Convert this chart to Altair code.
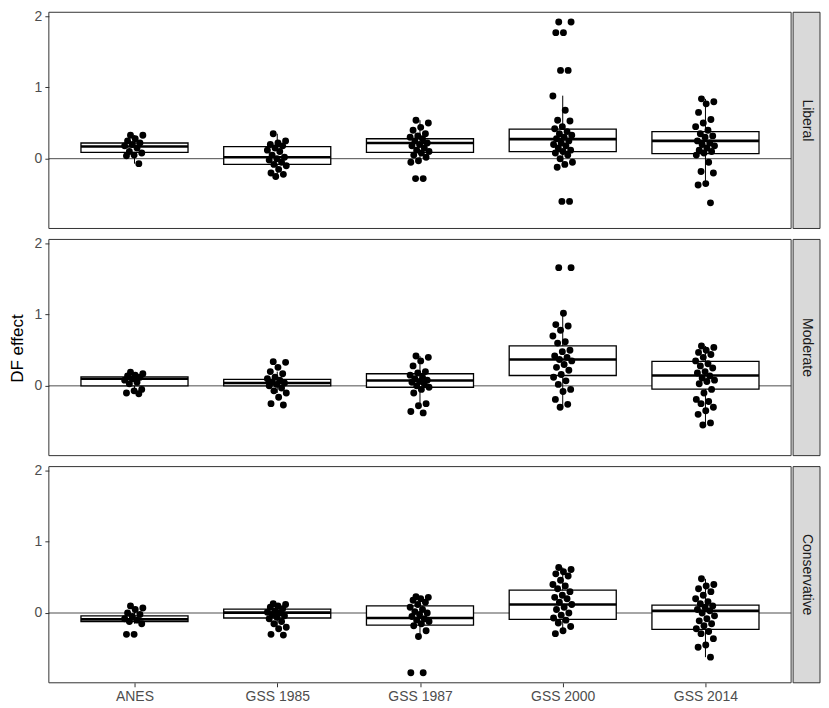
import altair as alt
import pandas as pd

surveys = ["ANES", "GSS 1985", "GSS 1987", "GSS 2000", "GSS 2014"]
ideologies = ["Liberal", "Moderate", "Conservative"]

# ---- jittered point values (DF effect) ----
lib_anes = [0.33, 0.33, 0.28, 0.25, 0.22, 0.2, 0.18, 0.15, 0.1, 0.08, 0.05, 0.04, -0.07]
lib_1985 = [0.35, 0.25, 0.22, 0.2, 0.18, 0.15, 0.12, 0.1, 0.05, 0.02, 0.0, -0.02, -0.05, -0.08,
            -0.1, -0.15, -0.2, -0.22, -0.25]
lib_1987 = [0.54, 0.5, 0.44, 0.4, 0.35, 0.32, 0.3, 0.28, 0.25, 0.22, 0.2, 0.18, 0.15, 0.12, 0.1,
            0.08, 0.05, 0.02, -0.03, -0.05, -0.28, -0.28]
lib_2000 = [1.92, 1.92, 1.77, 1.77, 1.24, 1.24, 0.88, 0.68, 0.54, 0.53, 0.45, 0.42, 0.38, 0.35,
            0.33, 0.3, 0.28, 0.25, 0.22, 0.2, 0.18, 0.15, 0.12, 0.1, 0.08, 0.05, 0.0, -0.05, -0.08,
            -0.12, -0.6, -0.6]
lib_2014 = [0.84, 0.8, 0.77, 0.65, 0.55, 0.5, 0.45, 0.4, 0.35, 0.32, 0.3, 0.25, 0.22, 0.2, 0.18,
            0.15, 0.12, 0.1, 0.08, 0.05, -0.05, -0.18, -0.2, -0.35, -0.37, -0.62]

mod_anes = [0.19, 0.17, 0.15, 0.14, 0.12, 0.1, 0.08, 0.05, 0.03, -0.05, -0.07, -0.1, -0.11]
mod_1985 = [0.34, 0.33, 0.26, 0.2, 0.17, 0.12, 0.1, 0.08, 0.05, 0.04, 0.02, 0.0, -0.03, -0.07,
            -0.1, -0.16, -0.25, -0.27]
mod_1987 = [0.42, 0.4, 0.35, 0.28, 0.2, 0.18, 0.15, 0.12, 0.1, 0.08, 0.06, 0.05, 0.03, 0.0,
            -0.02, -0.05, -0.1, -0.25, -0.28, -0.36, -0.38]
mod_2000 = [1.66, 1.66, 1.02, 0.86, 0.84, 0.78, 0.7, 0.62, 0.6, 0.5, 0.48, 0.42, 0.4, 0.37, 0.35,
            0.3, 0.26, 0.22, 0.16, 0.12, 0.07, 0.02, -0.05, -0.08, -0.19, -0.26, -0.3]
mod_2014 = [0.56, 0.54, 0.5, 0.47, 0.44, 0.4, 0.35, 0.31, 0.28, 0.25, 0.2, 0.18, 0.14, 0.11,
            0.08, 0.06, 0.03, -0.05, -0.1, -0.19, -0.22, -0.25, -0.3, -0.35, -0.4, -0.52, -0.55]

con_anes = [0.1, 0.07, 0.05, 0.0, -0.02, -0.05, -0.08, -0.1, -0.12, -0.15, -0.3, -0.3]
con_1985 = [0.13, 0.12, 0.1, 0.08, 0.06, 0.03, 0.01, 0.0, -0.02, -0.04, -0.06, -0.08, -0.12,
            -0.15, -0.2, -0.22, -0.3, -0.31]
con_1987 = [0.23, 0.22, 0.2, 0.18, 0.15, 0.12, 0.08, 0.05, 0.02, 0.0, -0.02, -0.05, -0.08, -0.1,
            -0.12, -0.15, -0.18, -0.25, -0.33, -0.84, -0.84]
con_2000 = [0.64, 0.61, 0.58, 0.55, 0.52, 0.46, 0.4, 0.38, 0.34, 0.3, 0.25, 0.22, 0.2, 0.15,
            0.12, 0.08, 0.05, 0.0, -0.03, -0.07, -0.1, -0.14, -0.19, -0.25, -0.29]
con_2014 = [0.48, 0.4, 0.38, 0.34, 0.3, 0.25, 0.2, 0.16, 0.13, 0.1, 0.08, 0.05, 0.03, 0.0, -0.04,
            -0.08, -0.11, -0.15, -0.18, -0.22, -0.26, -0.29, -0.36, -0.45, -0.48, -0.62]

points = {
    "Liberal": [lib_anes, lib_1985, lib_1987, lib_2000, lib_2014],
    "Moderate": [mod_anes, mod_1985, mod_1987, mod_2000, mod_2014],
    "Conservative": [con_anes, con_1985, con_1987, con_2000, con_2014],
}

# ---- box statistics: lower whisker, q1, median, q3, upper whisker ----
box_lo = {"Liberal": [-0.07, -0.25, -0.05, -0.12, -0.37],
          "Moderate": [-0.11, -0.1, -0.28, -0.3, -0.55],
          "Conservative": [-0.15, -0.22, -0.33, -0.29, -0.62]}
box_q1 = {"Liberal": [0.09, -0.08, 0.09, 0.10, 0.07],
          "Moderate": [0.0, 0.0, -0.02, 0.145, -0.045],
          "Conservative": [-0.12, -0.07, -0.17, -0.09, -0.23]}
box_med = {"Liberal": [0.17, 0.02, 0.22, 0.275, 0.25],
           "Moderate": [0.10, 0.04, 0.075, 0.37, 0.145],
           "Conservative": [-0.09, 0.005, -0.07, 0.12, 0.03]}
box_q3 = {"Liberal": [0.22, 0.17, 0.28, 0.415, 0.38],
          "Moderate": [0.125, 0.09, 0.17, 0.56, 0.345],
          "Conservative": [-0.04, 0.055, 0.10, 0.32, 0.11]}
box_hi = {"Liberal": [0.33, 0.35, 0.54, 0.885, 0.84],
          "Moderate": [0.19, 0.2, 0.42, 1.02, 0.56],
          "Conservative": [0.07, 0.13, 0.23, 0.64, 0.48]}

W, H, STRIP = 745, 217, 27
FONT = "Liberation Sans"
Y_DOMAIN = [-0.98, 2.056]
X_DOMAIN = [-0.6, len(surveys) - 0.4]
JIT = 0.07      # jitter half-width in category units
HALF_BOX = 0.375

survey_js = "[" + ",".join("'" + s + "'" for s in surveys) + "]"
idx_expr = "indexof(" + survey_js + ", datum.survey)"


def panel(ideo, last):
    rows = []
    for s, vals in zip(surveys, points[ideo]):
        for k, v in enumerate(vals):
            jit = ((k * 0.618034 + 0.3) % 1.0) * 2 - 1
            rows.append({"survey": s, "value": v, "jit": jit})
    pdf = pd.DataFrame(rows)
    bdf = pd.DataFrame({"survey": surveys, "lo": box_lo[ideo], "q1": box_q1[ideo],
                        "med": box_med[ideo], "q3": box_q3[ideo], "hi": box_hi[ideo]})

    xscale = alt.Scale(domain=X_DOMAIN, nice=False, zero=False)
    if last:
        xaxis = alt.Axis(title=None, values=list(range(len(surveys))),
                         labelExpr=survey_js + "[datum.value]",
                         labelFontSize=14, labelColor="#4D4D4D", labelFont=FONT,
                         tickColor="#333333", tickSize=4, labelPadding=3, domain=False,
                         labelAngle=0, grid=False, labelFlush=False, labelOverlap=False)
    else:
        xaxis = None
    yscale = alt.Scale(domain=Y_DOMAIN, nice=False, zero=False)
    yaxis = alt.Axis(values=[0, 1, 2], format="d", labelFontSize=14, labelColor="#4D4D4D",
                     labelFont=FONT, tickColor="#333333", tickSize=4, labelPadding=3,
                     domain=False, grid=False, title=None, labelFlush=False)

    def X(field):
        return alt.X(field, type="quantitative", scale=xscale, axis=xaxis)

    def Y(field):
        return alt.Y(field, type="quantitative", scale=yscale, axis=yaxis)

    bbase = alt.Chart(bdf).transform_calculate(
        xi=idx_expr,
        xl="datum.xi - " + str(HALF_BOX),
        xr="datum.xi + " + str(HALF_BOX),
    )

    zero = alt.Chart(pd.DataFrame({"z": [0]})).mark_rule(color="#4D4D4D", strokeWidth=1).encode(
        y=Y("z"))
    whisk = bbase.mark_rule(color="black", strokeWidth=1).encode(
        x=X("xi"), y=Y("lo"), y2="hi")
    box = bbase.mark_rect(fill="white", stroke="black", strokeWidth=1.3).encode(
        x=X("xl"), x2="xr", y=Y("q1"), y2="q3")
    med = bbase.mark_rule(color="black", strokeWidth=2.6).encode(
        x=X("xl"), x2="xr", y=Y("med"))
    pts = alt.Chart(pdf).transform_calculate(
        xp=idx_expr + " + datum.jit * " + str(JIT)
    ).mark_circle(size=48, color="black", opacity=1).encode(
        x=X("xp"), y=Y("value"))
    frame = alt.Chart(pd.DataFrame({"f": [0]})).mark_rect(
        fillOpacity=0, stroke="#333333", strokeWidth=1).encode(
        x=alt.value(0), x2=alt.value(W), y=alt.value(0), y2=alt.value(H))

    main = alt.layer(zero, whisk, box, med, pts, frame).properties(width=W, height=H)

    strip_bg = alt.Chart(pd.DataFrame({"label": [ideo]})).mark_rect(
        fill="#D9D9D9", stroke="#333333", strokeWidth=1).encode(
        x=alt.value(0), x2=alt.value(STRIP), y=alt.value(0), y2=alt.value(H))
    strip_txt = alt.Chart(pd.DataFrame({"label": [ideo]})).mark_text(
        angle=90, fontSize=14, font=FONT, color="#1A1A1A", baseline="middle",
        align="center").encode(
        text="label:N", x=alt.value(STRIP / 2), y=alt.value(H / 2))
    strip = alt.layer(strip_bg, strip_txt).properties(width=STRIP, height=H)

    return alt.hconcat(main, strip, spacing=0)


rows = [panel(ideo, i == len(ideologies) - 1) for i, ideo in enumerate(ideologies)]
grid = alt.vconcat(*rows, spacing=7)

TOTAL_H = 3 * H + 2 * 10
ytitle = alt.Chart(pd.DataFrame({"t": ["DF effect"]})).mark_text(
    angle=270, fontSize=17, font=FONT, color="#000000", baseline="middle",
    align="center").encode(
    text="t:N", x=alt.value(10), y=alt.value(TOTAL_H / 2 + 2)).properties(width=18, height=TOTAL_H)

chart = alt.hconcat(ytitle, grid, spacing=8).properties(
    padding={"left": 0, "top": 0, "right": 0, "bottom": 0},
    background="white",
).configure_view(stroke="transparent", strokeWidth=0)

chart.save("out.html", embed_options={"renderer": "svg", "actions": False})
